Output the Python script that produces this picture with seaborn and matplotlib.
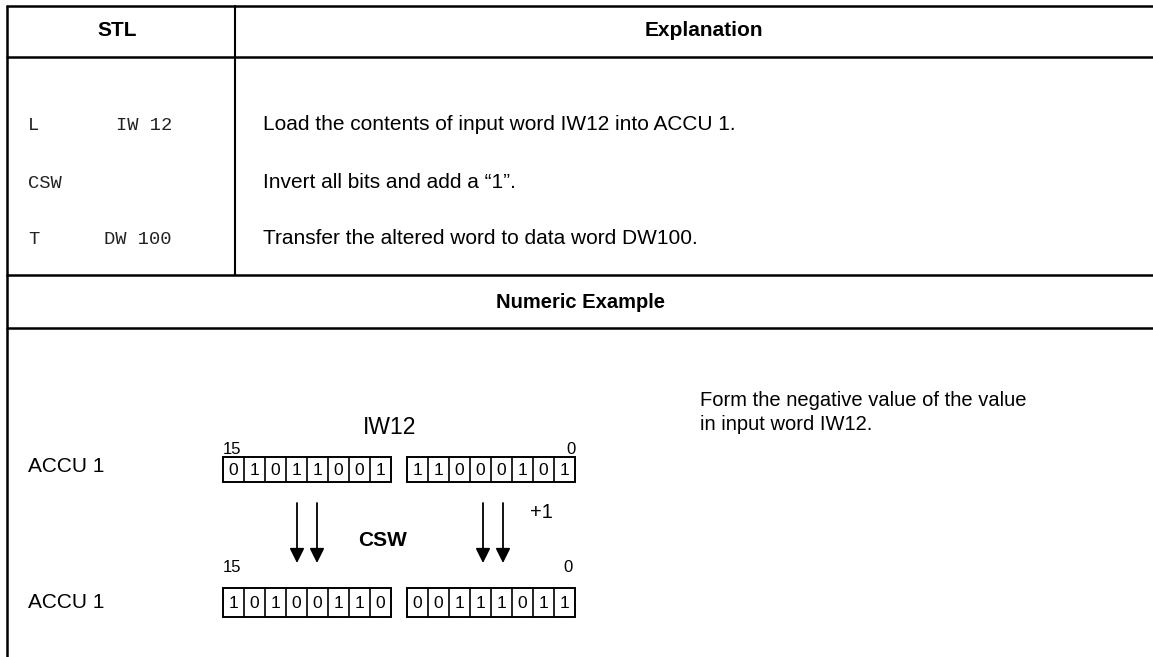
import numpy as np
import seaborn as sns
import matplotlib.pyplot as plt

# STL program rows
ops = ['L', 'CSW', 'T']
operands = ['IW 12', '', 'DW 100']
explanations = ['Load the contents of input word IW12 into ACCU 1.',
                'Invert all bits and add a \u201c1\u201d.',
                'Transfer the altered word to data word DW100.']

# bit patterns, high byte then low byte
iw12_bits = [0, 1, 0, 1, 1, 0, 0, 1, 1, 1, 0, 0, 0, 1, 0, 1]
result_bits = [1, 0, 1, 0, 0, 1, 1, 0, 0, 0, 1, 1, 1, 0, 1, 1]

note_lines = ['Form the negative value of the value', 'in input word IW12.']

sns.set_theme(style='white')
plt.rcParams['font.family'] = ['Liberation Sans', 'DejaVu Sans']
plt.rcParams['text.color'] = 'black'

fig = plt.figure(figsize=(11.53, 6.57), dpi=100)
ax = fig.add_axes([0, 0, 1, 1])
ax.set_xlim(0, 1153)
ax.set_ylim(657, 0)
ax.axis('off')

lc = '#000000'
# table frame
for y in [6, 57, 275, 328]:
    ax.plot([7, 1153], [y, y], color=lc, lw=1.8)
ax.plot([7, 7], [6, 657], color=lc, lw=1.8)
ax.plot([235, 235], [6, 275], color=lc, lw=1.5)

ax.text(117, 31, 'STL', ha='center', va='center', fontsize=15, fontweight='bold')
ax.text(704, 31, 'Explanation', ha='center', va='center', fontsize=15, fontweight='bold')

row_y = [126, 183, 240]
for y, op, arg, expl in zip(row_y, ops, operands, explanations):
    ax.text(28, y, op, ha='left', va='center', fontsize=13.5, family='Liberation Mono',
            fontweight='light', color='#222222')
    ax.text(172, y, arg, ha='right', va='center', fontsize=13.5, family='Liberation Mono',
            fontweight='light', color='#222222')
    ax.text(263, y - 1, expl, ha='left', va='center', fontsize=15)

ax.text(580, 302, 'Numeric Example', ha='center', va='center', fontsize=14.5, fontweight='bold')
for y, line in zip([400, 425], note_lines):
    ax.text(700, y, line, ha='left', va='center', fontsize=14.5)


def bit_row(bits, top, height, x0s, cell=21):
    for b in range(2):
        x0 = x0s[b]
        ax.add_patch(plt.Rectangle((x0, top), cell * 8, height, fill=False, ec=lc, lw=1.4))
        for i in range(1, 8):
            ax.plot([x0 + i * cell] * 2, [top, top + height], color=lc, lw=1.2)
        for i, v in enumerate(bits[b * 8:(b + 1) * 8]):
            ax.text(x0 + (i + 0.5) * cell, top + height / 2 + 1, str(v),
                    ha='center', va='center', fontsize=12.5)


byte_x = [223, 407]
ax.text(390, 427, 'IW12', ha='center', va='center', fontsize=16.5)
ax.text(223, 450, '15', ha='left', va='center', fontsize=12)
ax.text(571, 450, '0', ha='center', va='center', fontsize=12)
ax.text(28, 467, 'ACCU 1', ha='left', va='center', fontsize=15)
bit_row(iw12_bits, 457, 25, byte_x)

for x in [297, 317, 483, 503]:
    ax.annotate('', xy=(x, 563), xytext=(x, 503),
                arrowprops=dict(arrowstyle='-|>', color=lc, lw=1.3,
                                mutation_scale=22, shrinkA=0, shrinkB=0))
ax.text(383, 540, 'CSW', ha='center', va='center', fontsize=15, fontweight='bold')
ax.text(541, 513, '+1', ha='center', va='center', fontsize=14.5)

ax.text(223, 567, '15', ha='left', va='center', fontsize=12)
ax.text(568, 567, '0', ha='center', va='center', fontsize=12)
ax.text(28, 602, 'ACCU 1', ha='left', va='center', fontsize=15)
bit_row(result_bits, 588, 29, byte_x)

fig.savefig('out.png', dpi=100, facecolor='white')
